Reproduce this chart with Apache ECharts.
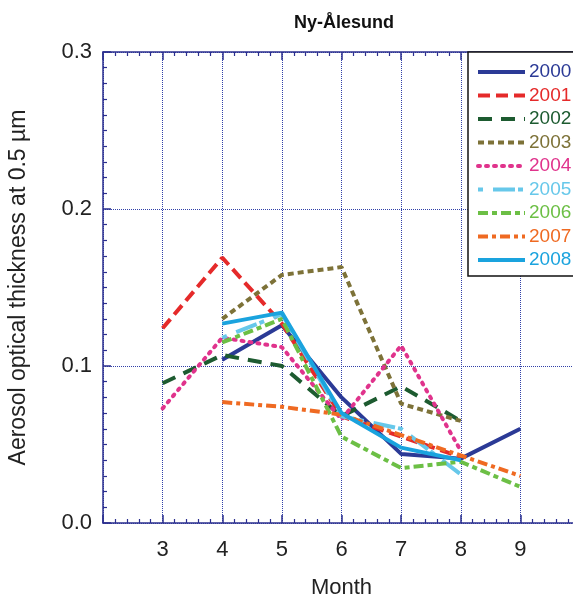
<!DOCTYPE html>
<html>
<head>
<meta charset="utf-8">
<script src="https://cdn.jsdelivr.net/npm/echarts@6/dist/echarts.min.js"></script>
<style>
  html, body { margin: 0; padding: 0; background: #fff; }
  #chart { width: 573px; height: 603px; }
</style>
</head>
<body>
<div id="chart"></div>
<script>
// months on the x axis, one value per month (null = no data)
var months = [3, 4, 5, 6, 7, 8, 9];
var years = ['2000', '2001', '2002', '2003', '2004', '2005', '2006', '2007', '2008'];

var v2000 = [null, 0.104, 0.126, 0.080, 0.044, 0.041, 0.060];
var v2001 = [0.124, 0.169, 0.127, 0.068, 0.055, 0.042, null];
var v2002 = [0.089, 0.107, 0.100, 0.068, 0.087, 0.065, null];
var v2003 = [null, 0.130, 0.158, 0.163, 0.076, 0.065, null];
var v2004 = [0.073, 0.118, 0.112, 0.066, 0.113, 0.046, null];
var v2005 = [null, 0.118, 0.133, 0.068, 0.060, 0.031, null];
var v2006 = [null, 0.115, 0.130, 0.055, 0.035, 0.039, 0.023];
var v2007 = [null, 0.077, 0.074, 0.069, 0.056, 0.043, 0.030];
var v2008 = [null, 0.127, 0.134, 0.070, 0.048, 0.040, null];

var yTicks = ['0.0', '0.1', '0.2', '0.3'];

var values = [v2000, v2001, v2002, v2003, v2004, v2005, v2006, v2007, v2008];
var colors = ['#2b3a96', '#e52a2a', '#1d5b30', '#7d7238', '#e0338c', '#67c8ea', '#6cbf45', '#ef6a22', '#1aa3de'];
var dashes = ['solid', [12, 6], [14, 9], [6, 4], [2, 6], [5, 10, 22, 3], [10, 4, 5, 4], [10, 4, 4, 4], 'solid'];

var axisBlue = '#2b2f8f';
var font = 'Liberation Sans';

function pairs(vals) {
  var out = [];
  vals.forEach(function (v, i) {
    if (v !== null) out.push([months[i], v]);
  });
  return out;
}

var series = years.map(function (y, i) {
  return {
    name: y,
    type: 'line',
    data: pairs(values[i]),
    symbol: 'none',
    xAxisIndex: 0,
    yAxisIndex: 0,
    lineStyle: {
      color: colors[i],
      width: 4,
      type: dashes[i],
      cap: i === 4 ? 'round' : 'butt'
    },
    itemStyle: { color: colors[i] }
  };
});

var chart = echarts.init(document.getElementById('chart'));
chart.setOption({
  animation: false,
  title: {
    text: 'Ny-Ålesund',
    left: 339,
    top: 9,
    textAlign: 'center',
    textStyle: { fontFamily: font, fontSize: 18, fontWeight: 'bold', color: '#111' }
  },
  grid: { left: 103, right: -7, top: 52, bottom: 80, outerBoundsMode: 'none', containLabel: false },
  legend: {
    orient: 'vertical',
    left: 468,
    top: 52,
    backgroundColor: '#fff',
    borderColor: '#111',
    borderWidth: 1.5,
    borderRadius: 0,
    padding: [10, 40, 6, 8],
    itemWidth: 47,
    itemHeight: 14,
    itemGap: 3.5,
    itemStyle: { opacity: 0 },
    lineStyle: { width: 4 },
    data: years.map(function (y, i) {
      return { name: y, textStyle: { color: colors[i] } };
    }),
    textStyle: { fontFamily: font, fontSize: 19, lineHeight: 20, padding: [0, 0, 0, -1] }
  },
  xAxis: [{
    type: 'value',
    min: 2,
    max: 10,
    interval: 1,
    name: 'Month',
    nameLocation: 'middle',
    nameGap: 54,
    nameTextStyle: { fontFamily: font, fontSize: 22, color: '#222' },
    axisLine: { lineStyle: { color: axisBlue, width: 1.5 } },
    axisTick: { inside: true, length: 8, lineStyle: { color: axisBlue, width: 1.5 } },
    minorTick: { show: true, splitNumber: 5, length: 4, lineStyle: { color: axisBlue, width: 1.2 } },
    axisLabel: {
      margin: 16,
      fontFamily: font, fontSize: 22, color: '#222',
      formatter: function (v) { return (v >= 3 && v <= 9) ? String(v) : ''; }
    },
    splitLine: { show: true, lineStyle: { color: '#3040a8', type: 'dotted', width: 1 } }
  }, {
    type: 'value',
    position: 'top',
    min: 2,
    max: 10,
    interval: 1,
    axisLine: { lineStyle: { color: axisBlue, width: 1.5 } },
    axisTick: { inside: true, length: 8, lineStyle: { color: axisBlue, width: 1.5 } },
    minorTick: { show: true, splitNumber: 5, length: 4, lineStyle: { color: axisBlue, width: 1.2 } },
    axisLabel: { show: false },
    splitLine: { show: false }
  }],
  yAxis: {
    type: 'value',
    min: 0,
    max: 0.3,
    interval: 0.1,
    name: 'Aerosol optical thickness at 0.5 µm',
    nameLocation: 'middle',
    nameGap: 73,
    nameTextStyle: { fontFamily: font, fontSize: 23, color: '#222' },
    axisLine: { show: true, lineStyle: { color: axisBlue, width: 1.5 } },
    axisTick: { show: true, inside: true, length: 8, lineStyle: { color: axisBlue, width: 1.5 } },
    minorTick: { show: true, splitNumber: 10, length: 4, lineStyle: { color: axisBlue, width: 1.2 } },
    axisLabel: {
      margin: 11,
      fontFamily: font, fontSize: 22, color: '#222',
      formatter: function (v) { return yTicks[Math.round(v * 10)]; }
    },
    splitLine: { show: true, lineStyle: { color: '#3040a8', type: 'dotted', width: 1 } }
  },
  series: series
});
</script>
</body>
</html>
